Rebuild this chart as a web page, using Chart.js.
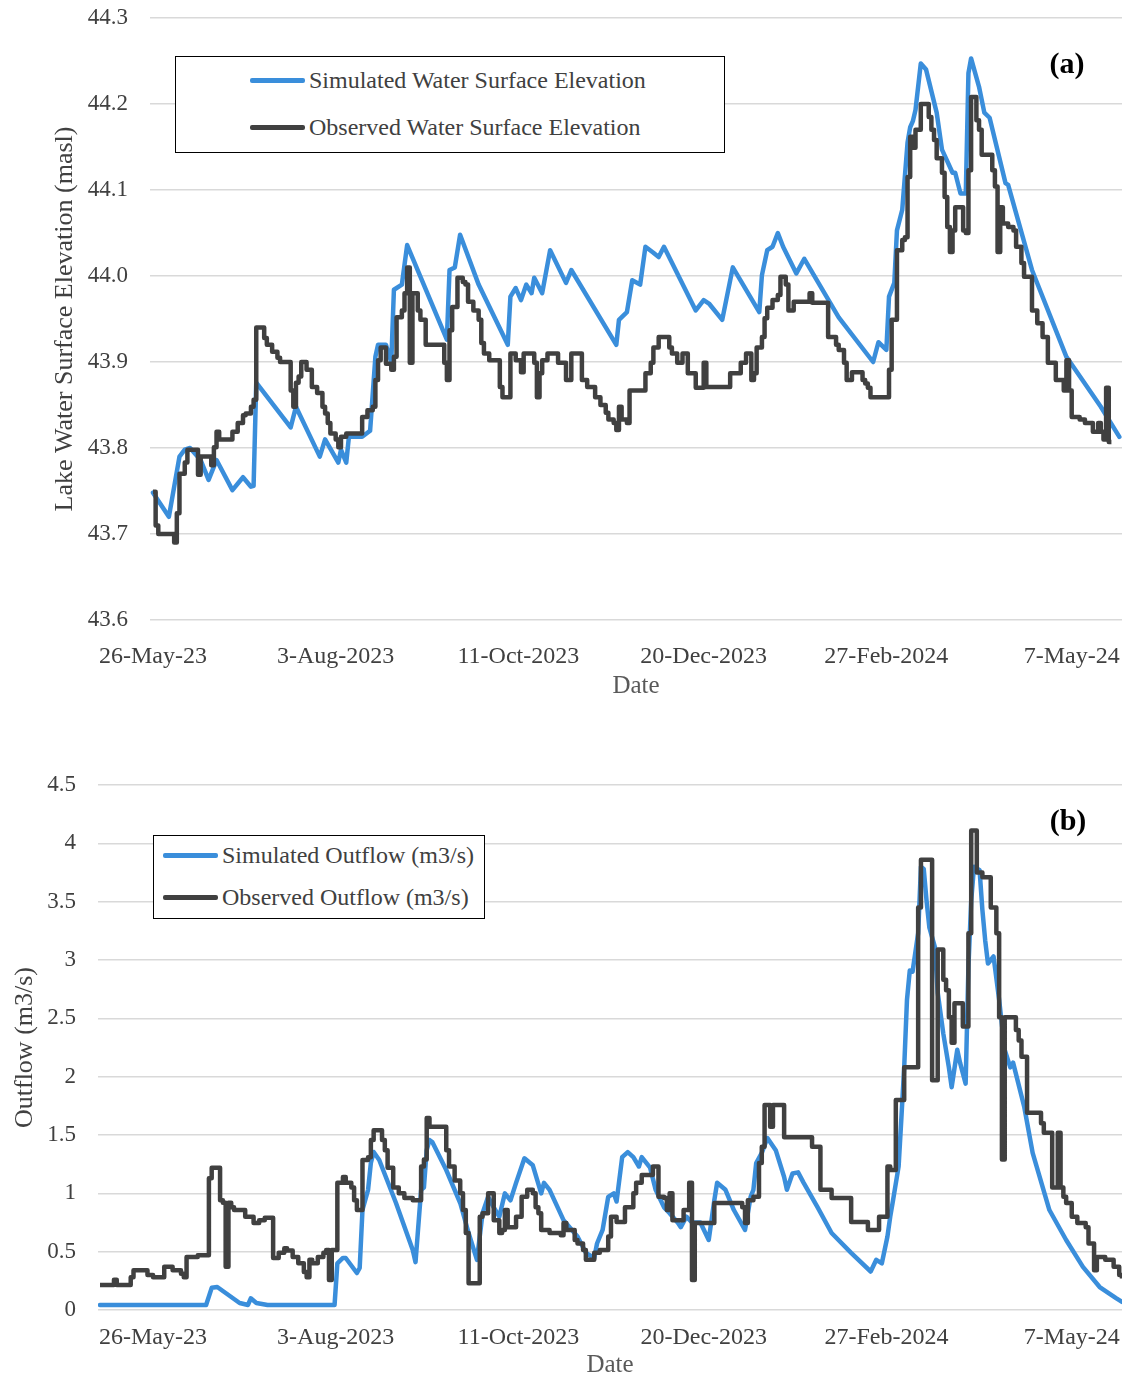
<!DOCTYPE html>
<html>
<head>
<meta charset="utf-8">
<title>Lake water surface elevation and outflow</title>
<script src="https://cdn.jsdelivr.net/npm/chart.js@4.4.0/dist/chart.umd.min.js"></script>
<style>
  html, body { margin: 0; padding: 0; background: #fff; }
  body { width: 1125px; height: 1375px; position: relative; overflow: hidden;
         font-family: "Liberation Serif", "Times New Roman", serif; }
  canvas { position: absolute; left: 0; }
  #elev { top: 0; }
  #flow { top: 700px; }
  .legend { position: absolute; border: 1.5px solid #000; background: #fff; box-sizing: border-box; }
  .item { position: absolute; height: 28px; display: flex; align-items: center;
          font-size: 24px; color: #404040; white-space: nowrap; }
  .item .sw { display: inline-block; width: 55px; height: 5px; margin-right: 4px; border-radius: 2px; }
  .tag { position: absolute; width: 80px; text-align: center; font-weight: bold;
         font-size: 30px; line-height: 34px; color: #000; }
</style>
</head>
<body>
<canvas id="elev" width="1125" height="701"></canvas>
<canvas id="flow" width="1125" height="680"></canvas>

<div class="legend" style="left:175px;top:56px;width:550px;height:97px;"></div>
<div class="item" style="left:250px;top:66px;"><span class="sw" style="background:#3a8edb"></span>Simulated Water Surface Elevation</div>
<div class="item" style="left:250px;top:113px;"><span class="sw" style="background:#404040"></span>Observed Water Surface Elevation</div>
<div class="tag" style="left:1027px;top:46px;">(a)</div>

<div class="legend" style="left:153px;top:835px;width:332px;height:84px;"></div>
<div class="item" style="left:163px;top:841px;"><span class="sw" style="background:#3a8edb"></span>Simulated Outflow (m3/s)</div>
<div class="item" style="left:163px;top:883px;"><span class="sw" style="background:#404040"></span>Observed Outflow (m3/s)</div>
<div class="tag" style="left:1028px;top:803px;">(b)</div>

<script>
// Days are counted from 26-May-2023 (day 0).
const dateTickDays = [0, 69, 138, 208, 277, 347];
const dateTickLabels = ['26-May-23', '3-Aug-2023', '11-Oct-2023', '20-Dec-2023', '27-Feb-2024', '7-May-24'];
const elevTicks = [43.6, 43.7, 43.8, 43.9, 44.0, 44.1, 44.2, 44.3];
const flowTicks = [0, 0.5, 1, 1.5, 2, 2.5, 3, 3.5, 4, 4.5];

// Lake water surface elevation (masl), simulated
const elevSimDay = [0, 6, 10, 12, 14, 18, 21, 24, 30, 34, 37, 38, 39, 52, 54, 63, 65, 70, 71, 73, 74, 79, 82, 84, 85, 88, 90, 91, 94, 96,
  111, 112, 114, 116, 123, 134, 135, 137, 139, 141, 143, 144, 147, 150, 156, 158, 175, 176, 179, 181, 184, 186, 189, 191, 193,
  205, 208, 210, 215, 219, 229, 230, 232, 234, 236, 238, 243, 246, 259, 272, 274, 277, 278, 280, 281, 283, 285, 286, 287, 288,
  290, 292, 296, 298, 302, 303, 305, 307, 308, 309, 312, 314, 316, 322, 323, 332, 345, 358, 365];
const elevSimVal = [43.748, 43.72, 43.79, 43.798, 43.80, 43.786, 43.763, 43.786, 43.751, 43.766, 43.755, 43.756, 43.876, 43.824, 43.848,
  43.79, 43.81, 43.783, 43.798, 43.783, 43.813, 43.813, 43.82, 43.906, 43.92, 43.92, 43.90, 43.984, 43.99, 44.036,
  43.926, 44.007, 44.01, 44.048, 43.99, 43.92, 43.976, 43.986, 43.972, 43.99, 43.98, 43.998, 43.98, 44.03, 43.992, 44.007,
  43.92, 43.949, 43.958, 43.995, 43.99, 44.034, 44.027, 44.022, 44.034,
  43.96, 43.972, 43.968, 43.949, 44.01, 43.958, 44.001, 44.03, 44.034, 44.05, 44.034, 44.003, 44.02, 43.952, 43.90, 43.923,
  43.914, 43.976, 43.992, 44.053, 44.077, 44.155, 44.173, 44.18, 44.193,
  44.247, 44.24, 44.19, 44.147, 44.12, 44.12, 44.096, 44.096, 44.236, 44.253, 44.22, 44.19, 44.184, 44.108, 44.106,
  44.007, 43.906, 43.848, 43.813];

// Lake water surface elevation (masl), observed (each value holds until the next day listed)
const elevObsDay = [0, 1, 2, 8, 9, 10, 12, 13, 17, 18, 22, 23, 24, 25, 30, 32, 34, 35, 37, 38, 39, 42, 43, 45, 47, 48, 52, 53, 54, 55,
  56, 58, 60, 62, 64, 65, 66, 67, 69, 70, 71, 73, 79, 81, 83, 84, 85, 86, 88, 90, 91, 92, 94, 95, 96, 97, 98, 100, 101, 103,
  110, 111, 112, 113, 115, 117, 118, 119, 121, 123, 124, 125, 127, 131, 132, 135, 137, 139, 140, 144, 145, 146, 147, 149, 153,
  156, 158, 162, 164, 167, 169, 171, 172, 174, 175, 176, 177, 179, 180, 186, 188, 189, 191, 195, 196, 198, 200, 202, 205, 208,
  209, 218, 222, 224, 226, 227, 228, 230, 231, 232, 234, 236, 237, 239, 240, 242, 248, 249, 255, 258, 259, 261, 262, 264, 268,
  269, 270, 271, 278, 279, 281, 283, 284, 285, 286, 287, 288, 290, 293, 294, 295, 296, 298, 299, 300, 301, 302, 303, 306, 307,
  308, 309, 311, 312, 313, 317, 318, 319, 320, 321, 323, 325, 326, 328, 329, 332, 334, 336, 338, 341, 344, 345, 346, 347, 350,
  352, 355, 357, 358, 359, 360, 361, 362];
const elevObsVal = [43.749, 43.71, 43.70, 43.69, 43.724, 43.77, 43.783, 43.798, 43.769, 43.79, 43.78, 43.801, 43.819, 43.81, 43.819,
  43.829, 43.838, 43.84, 43.848, 43.856, 43.94, 43.928, 43.92, 43.912, 43.905, 43.90, 43.867, 43.848, 43.876, 43.883,
  43.90, 43.891, 43.871, 43.864, 43.848, 43.84, 43.829, 43.817, 43.81, 43.801, 43.813, 43.817, 43.836, 43.844, 43.848, 43.879,
  43.902, 43.917, 43.898, 43.891, 43.906, 43.952, 43.96, 43.98, 44.01, 43.899, 43.98, 43.96, 43.949, 43.92,
  43.899, 43.879, 43.937, 43.964, 43.998, 43.993, 43.99, 43.97, 43.96, 43.949, 43.922, 43.91, 43.902, 43.871, 43.859, 43.91,
  43.902, 43.888, 43.91, 43.899, 43.859, 43.887, 43.902, 43.91, 43.899,
  43.879, 43.91, 43.879, 43.871, 43.859, 43.85, 43.841, 43.833, 43.829, 43.821, 43.848, 43.833, 43.829, 43.867, 43.887, 43.899,
  43.917, 43.929, 43.917, 43.91, 43.899, 43.91, 43.887, 43.87, 43.899,
  43.871, 43.887, 43.899, 43.91, 43.879, 43.887, 43.917, 43.929, 43.951, 43.963, 43.972, 43.978, 43.999, 43.99, 43.96, 43.97,
  43.98, 43.969, 43.929, 43.92, 43.914, 43.899, 43.879, 43.888, 43.879,
  43.875, 43.87, 43.859, 43.891, 43.949, 44.03, 44.042, 44.045, 44.115, 44.162, 44.149, 44.17, 44.20, 44.185, 44.17, 44.158,
  44.137, 44.12, 44.092, 44.057, 44.028, 44.053, 44.08, 44.053, 44.05,
  44.123, 44.208, 44.181, 44.17, 44.141, 44.123, 44.104, 44.028, 44.08, 44.061, 44.057, 44.053, 44.034, 44.015, 43.999, 43.96,
  43.945, 43.929, 43.899, 43.879, 43.867, 43.902, 43.867, 43.836, 43.833,
  43.829, 43.819, 43.829, 43.819, 43.81, 43.87, 43.807, 43.807];

// Outflow (m3/s), simulated
const flowSimDay = [0, 38, 40, 42, 45, 50, 53, 54, 56, 60, 84, 85, 87, 88, 92, 93, 94, 96, 97, 98, 100, 106, 112, 113, 115, 116, 117,
  118, 119, 124, 129, 132, 135, 136, 137, 139, 141, 143, 145, 147, 149, 152, 155, 158, 159, 161, 166, 171, 174, 177, 178, 180,
  182, 184, 185, 187, 189, 191, 193, 194, 197, 199, 202, 204, 207, 208, 210, 212, 215, 218, 220, 221, 224, 227, 231, 233, 234,
  235, 237, 239, 242, 245, 246, 248, 250, 252, 257, 262, 269, 276, 278, 280, 282, 283, 284, 286, 287, 288, 289, 290, 291, 293,
  294, 295, 296, 297, 299, 300, 302, 304, 305, 307, 308, 310, 311, 312, 313, 315, 316, 317, 318, 320, 322, 324, 326, 327, 331,
  334, 340, 346, 352, 358, 364, 366];
const flowSimVal = [0.043, 0.043, 0.19, 0.197, 0.146, 0.06, 0.043, 0.10, 0.06, 0.043, 0.043, 0.40, 0.446, 0.446, 0.317, 0.36, 0.857,
  1.03, 1.26, 1.354, 1.286, 0.917, 0.514, 0.41, 1.03, 1.05, 1.37,
  1.457, 1.44, 1.2, 0.917, 0.66, 0.43, 0.63, 0.83, 0.97, 0.88, 0.8, 1.0, 0.94, 1.09, 1.30, 1.24, 1.0, 1.09, 1.03, 0.77, 0.63,
  0.49, 0.446, 0.57, 0.686,
  0.97, 1.0, 0.93, 1.31, 1.354, 1.31, 1.23, 1.31, 1.22, 1.03, 0.88, 0.83, 0.746, 0.71, 0.8, 0.75, 0.75, 0.6, 0.94, 1.09, 1.03,
  0.857, 0.686, 0.97, 1.03,
  1.26, 1.346, 1.474, 1.37, 1.14, 1.03, 1.17, 1.18, 1.09, 0.88, 0.66, 0.49, 0.33, 0.43, 0.40, 0.63, 0.8, 0.94, 1.23, 1.65, 2.08,
  2.66, 2.91, 2.9, 3.23,
  3.8, 3.78, 3.51, 3.28, 3.11, 2.72, 2.37, 2.08, 1.91, 2.23, 2.12, 1.94, 2.94, 3.51, 3.8, 3.77, 3.43, 3.17, 2.97, 3.03, 2.66,
  2.23, 2.08, 2.12, 1.74,
  1.346, 0.857, 0.6, 0.37, 0.197, 0.1, 0.07];

// Outflow (m3/s), observed (each value holds until the next day listed)
const flowObsDay = [0, 5, 6, 11, 12, 17, 19, 23, 26, 29, 30, 31, 35, 39, 40, 43, 44, 45, 46, 47, 48, 52, 55, 57, 59, 62, 64, 66, 67,
  69, 71, 73, 74, 75, 76, 78, 80, 81, 82, 83, 85, 87, 88, 90, 91, 92, 94, 96, 97, 98, 101, 102, 103, 105, 107, 109, 112, 115,
  116, 117, 118, 124, 125, 127, 129, 130, 131, 132, 136, 137, 139, 141, 143, 144, 145, 146, 149, 151, 153, 155, 156, 157, 158,
  161, 165, 166, 167, 170, 171, 173, 174, 177, 179, 182, 183, 185, 188, 191, 192, 194, 198, 200, 202, 203, 204, 205, 209, 211,
  212, 213, 220, 230, 231, 232, 234, 236, 237, 238, 240, 241, 245, 255, 258, 262, 269, 275, 279, 282, 283, 285, 288, 293, 294,
  298, 300, 302, 303, 304, 305, 306, 309, 311, 312, 314, 316, 319, 321, 322, 323, 324, 328, 329, 330, 332, 337, 338, 341, 343,
  344, 345, 346, 348, 350, 353, 354, 356, 357, 360, 363, 365, 366];
const flowObsVal = [0.214, 0.26, 0.214, 0.28, 0.34, 0.30, 0.28, 0.37, 0.34, 0.31, 0.28, 0.455, 0.47, 1.13, 1.22, 0.94, 0.92, 0.37,
  0.92, 0.88, 0.857, 0.8, 0.746, 0.77, 0.79, 0.446, 0.49, 0.53, 0.51,
  0.455, 0.40, 0.326, 0.28, 0.43, 0.40, 0.455, 0.49, 0.514, 0.257, 0.514, 1.09, 1.14, 1.09, 1.05, 0.94, 0.857, 1.286, 1.31,
  1.457, 1.54, 1.457, 1.37, 1.22, 1.05, 1.0, 0.96, 0.94, 1.23,
  1.29, 1.646, 1.57, 1.37, 1.23, 1.11, 1.0, 0.857, 0.66, 0.23, 0.8, 0.83, 1.0, 0.77, 0.66, 0.686, 0.857, 0.71, 0.8, 0.97, 1.03,
  1.0, 0.88, 0.83, 0.686,
  0.66, 0.64, 0.746, 0.686, 0.6, 0.57, 0.514, 0.43, 0.49, 0.514, 0.63, 0.8, 0.754, 0.88, 1.0, 1.09, 1.157, 1.23, 0.97, 0.96,
  0.857, 1.0, 0.77, 0.857, 1.09,
  0.257, 0.746, 0.917, 0.88, 0.746, 0.94, 0.97, 1.26, 1.4, 1.757, 1.57, 1.757, 1.48, 1.4, 1.03, 0.96, 0.754, 0.686, 0.8, 1.23,
  1.2, 1.8, 2.08, 3.45, 3.86,
  1.97, 3.09, 2.83, 2.74, 2.51, 2.29, 2.63, 2.43, 3.23, 4.11, 3.75, 3.71, 3.45, 3.23, 2.51, 1.29, 2.51, 2.4, 2.31, 2.17, 1.69,
  1.6, 1.52, 1.05, 1.52,
  1.05, 0.97, 0.917, 0.8, 0.746, 0.71, 0.57, 0.34, 0.455, 0.43, 0.37, 0.30, 0.27];

const SIM_COLOR = '#3a8edb';
const OBS_COLOR = '#404040';
const SERIF = '"Liberation Serif", "Times New Roman", serif';

function points(days, vals) {
  return days.map((d, i) => ({ x: d, y: vals[i] }));
}

function simSet(label, days, vals) {
  return { label, data: points(days, vals), borderColor: SIM_COLOR, borderWidth: 4.5,
           pointRadius: 0, tension: 0, borderJoinStyle: 'round',
           borderCapStyle: 'round', order: 2 };
}
function obsSet(label, days, vals) {
  return { label, data: points(days, vals), borderColor: OBS_COLOR, borderWidth: 4.5,
           pointRadius: 0, stepped: true, borderJoinStyle: 'round', order: 1 };
}

// Fix axis box sizes so the plot areas land where intended.
const fixWidth = w => scale => { scale.width = w; scale.paddingTop = 0; scale.paddingBottom = 0; };
const fixHeight = h => scale => { scale.height = h; scale.paddingLeft = 0; scale.paddingRight = 0; };

function dateAxis(min, max, height, tickPad) {
  return {
    type: 'linear', position: 'bottom', min, max,
    afterBuildTicks: s => { s.ticks = dateTickDays.map(v => ({ value: v })); },
    afterFit: fixHeight(height),
    grid: { display: false, drawTicks: false },
    border: { display: false },
    ticks: {
      autoSkip: false, maxRotation: 0, minRotation: 0, padding: tickPad,
      color: '#404040', font: { family: SERIF, size: 24 },
      callback: v => { const i = dateTickDays.indexOf(v); return i >= 0 ? dateTickLabels[i] : ''; }
    },
    title: { display: true, text: 'Date', color: '#595959', padding: { top: 0, bottom: 0 },
             font: { family: SERIF, size: 25 } }
  };
}

function valueAxis(min, max, tickList, fmt, width, titleText, titleOffset) {
  return {
    type: 'linear', position: 'left', min, max,
    afterBuildTicks: s => { s.ticks = tickList.map(v => ({ value: v })); },
    afterFit: fixWidth(width),
    grid: { color: '#d9d9d9', lineWidth: 1.5, drawTicks: false },
    border: { display: false },
    ticks: { padding: 22, color: '#404040', font: { family: SERIF, size: 23 }, callback: fmt },
    title: { display: true, text: titleText, color: '#404040', padding: { top: titleOffset, bottom: 0 },
             font: { family: SERIF, size: 26 } }
  };
}

const common = {
  responsive: false, animation: false, events: [],
  plugins: { legend: { display: false }, tooltip: { enabled: false } }
};

// (a) lake water surface elevation
new Chart(document.getElementById('elev'), {
  type: 'line',
  data: { datasets: [
    simSet('Simulated Water Surface Elevation', elevSimDay, elevSimVal),
    obsSet('Observed Water Surface Elevation', elevObsDay, elevObsVal)
  ] },
  options: Object.assign({}, common, {
    layout: { padding: { left: 0, right: 3, top: 18, bottom: 0 } },
    scales: {
      x: dateAxis(-1.13, 366, 81, 22),
      y: valueAxis(43.6, 44.3, elevTicks, v => v.toFixed(1), 150, 'Lake Water Surface Elevation (masl)', 50)
    }
  })
});

// (b) outflow; the date labels sit on their own axis, the series on a hidden one
new Chart(document.getElementById('flow'), {
  type: 'line',
  data: { datasets: [
    Object.assign(simSet('Simulated Outflow (m3/s)', flowSimDay, flowSimVal), { xAxisID: 'x' }),
    Object.assign(obsSet('Observed Outflow (m3/s)', flowObsDay, flowObsVal), { xAxisID: 'x' })
  ] },
  options: Object.assign({}, common, {
    layout: { padding: { left: 0, right: 3, top: 85, bottom: 0 } },
    scales: {
      x: { type: 'linear', display: false, min: -0.716, max: 366 },
      xl: dateAxis(-20.77, 365.94, 70, 13),
      y: valueAxis(0, 4.5, flowTicks, v => String(v), 98, 'Outflow (m3/s)', 10)
    }
  })
});
</script>
</body>
</html>
